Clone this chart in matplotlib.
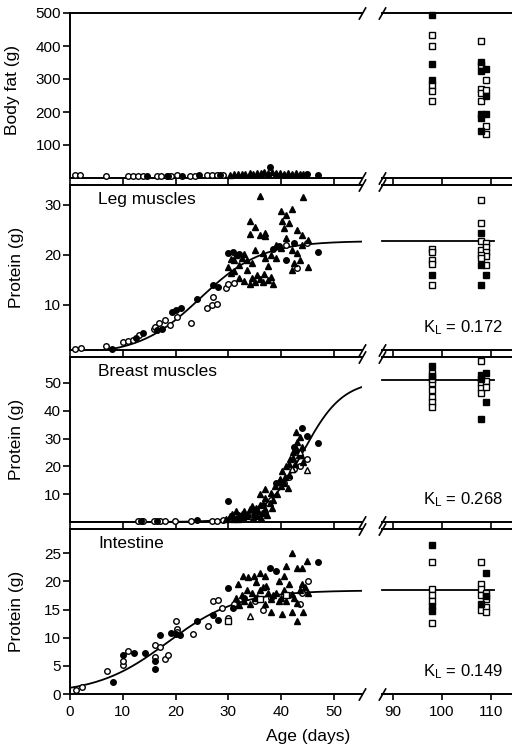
import matplotlib
matplotlib.use('Agg')
import matplotlib.pyplot as plt
import numpy as np

plt.rcParams['font.family'] = ['Liberation Sans', 'DejaVu Sans']

# ---------------- data ----------------
# Body fat (g), left (ages 0-55 d)
fat_oc_day = [0.9, 1.9, 6.9, 10.9, 11.9, 12.8, 13.8, 16.4, 17.3, 18.3, 19.2, 20.2, 22.7, 23.7, 25.9, 26.8, 27.8, 29.0]
fat_oc_val = [8, 8, 6, 5, 6, 6, 6, 7, 7, 7, 7, 8, 7, 7, 8, 8, 9, 10]
fat_fc_day = [14.5, 18.5, 21.2, 24.5, 28.5, 37.9, 44.8, 47.0]
fat_fc_val = [6, 7, 7, 8, 9, 32, 13, 8]
fat_ft_day = [30.3, 31.0, 31.8, 32.5, 33.2, 34.0, 34.7, 35.4, 36.1, 36.8, 37.5, 38.3, 39.0, 39.8, 40.5, 41.2, 42.0, 42.8, 43.5, 44.2]
fat_ft_val = [10, 12, 11, 13, 12, 14, 13, 16, 15, 17, 16, 18, 14, 15, 13, 15, 12, 14, 13, 12]
# Body fat, right (adults)
fat_os_day = [98, 98, 98, 98, 98, 108, 108, 108, 108, 108, 109, 109, 109, 109]
fat_os_val = [434, 401, 283, 265, 233, 414, 341, 270, 258, 233, 296, 266, 158, 132]
fat_fs_day = [98, 98, 98, 108, 108, 108, 108, 108, 109, 109, 109]
fat_fs_val = [494, 345, 298, 353, 323, 193, 183, 143, 330, 248, 193]

# Leg muscles protein (g)
leg_oc_day = [1.0, 2.0, 6.9, 10.1, 11.0, 11.9, 13.1, 15.9, 16.1, 16.9, 18.0, 19.0, 20.2, 23.0, 25.9, 26.8, 27.8, 27.0, 29.5, 30.0, 31.0, 41.0, 42.9, 44.8]
leg_oc_val = [1.3, 1.5, 1.9, 2.6, 2.9, 3.1, 4.1, 5.2, 5.7, 6.4, 7.1, 6.0, 7.7, 6.5, 9.4, 10.1, 10.3, 11.6, 13.5, 14.2, 14.4, 22.0, 17.4, 22.5]
leg_fc_day = [7.9, 12.5, 13.9, 16.5, 17.5, 19.3, 20.0, 21.1, 24.0, 27.1, 28.0, 30.0, 30.9, 32.0, 38.5, 39.5, 41.0, 42.5, 47.0]
leg_fc_val = [1.3, 3.5, 4.5, 5.0, 5.2, 8.7, 9.0, 9.4, 11.2, 14.0, 13.6, 20.5, 20.7, 20.3, 21.3, 21.8, 19.0, 22.5, 20.7]
leg_ft_day = [30.0, 30.5, 31.0, 32.0, 33.0, 34.0, 35.0, 36.0, 36.8, 37.5, 37.5, 38.0, 38.5, 36.0, 44.1, 34.1, 35.0, 34.1,
              36.0, 37.0, 39.9, 42.0, 41.0, 41.5, 40.2, 40.5, 43.0, 44.0, 45.0, 31.5, 32.5, 33.5, 34.5, 35.0, 36.5, 37.0,
              38.0, 39.0, 40.0, 42.0, 42.5, 43.5, 45.0, 42.0, 43.0, 44.0, 41.0, 39.0, 33.0, 35.5, 36.5, 34.5, 33.5, 31.0,
              32.0, 30.5, 37.0]
leg_ft_val = [17.7, 16.5, 16.8, 15.5, 14.8, 14.3, 14.6, 15.3, 16.2, 15.0, 17.8, 15.6, 14.2, 31.9, 31.6, 26.9, 25.7, 24.3,
              24.0, 24.5, 28.9, 29.3, 28.0, 26.5, 26.8, 25.5, 25.0, 24.0, 23.0, 20.0, 19.5, 19.0, 18.5, 21.0, 20.5, 19.5,
              20.0, 19.5, 21.5, 21.0, 18.5, 19.0, 17.6, 17.0, 20.5, 22.0, 23.5, 22.0, 20.3, 16.0, 14.7, 15.5, 17.0, 19.0,
              18.0, 19.2, 23.8]
leg_os_day = [98, 98, 98, 98, 98, 108, 108, 108, 108, 109, 109, 109, 109, 108, 108, 109]
leg_os_val = [21.3, 20.7, 19.0, 18.3, 14.1, 31.1, 26.5, 22.8, 21.0, 22.5, 21.7, 20.7, 19.8, 20.0, 19.4, 18.0]
leg_fs_day = [98, 108, 108, 108, 109]
leg_fs_val = [16.0, 24.5, 18.0, 14.1, 16.0]

# Breast muscles protein (g)
br_oc_day = [12.9, 13.9, 15.9, 17.0, 18.0, 19.9, 23.0, 26.8, 27.8, 29.0, 30.5, 32.0, 35.0, 38.0, 40.5, 42.5, 44.9, 43.5, 41.5]
br_oc_val = [0.3, 0.3, 0.3, 0.4, 0.4, 0.4, 0.4, 0.5, 0.5, 0.8, 1.5, 2.0, 2.5, 8.0, 14.0, 19.0, 22.7, 20.0, 16.0]
br_fc_day = [13.5, 16.5, 24.0, 30.0, 43.9, 44.8, 46.9, 42.5, 39.0, 36.5, 33.0]
br_fc_val = [0.3, 0.3, 0.6, 7.6, 33.9, 31.0, 28.3, 27.0, 14.0, 6.0, 2.5]
br_ft_day = [29.5, 30.3, 30.6, 31.0, 31.5, 32.0, 32.5, 33.0, 33.5, 34.0, 34.4, 34.8, 35.2, 35.6, 36.0, 36.4, 36.9, 37.3,
             37.8, 38.2, 38.8, 39.2, 39.8, 40.1, 40.5, 41.0, 41.4, 41.7, 42.0, 42.3, 42.6, 42.9, 43.3, 43.6, 44.0, 44.2,
             36.0, 36.9, 38.0, 39.5, 40.8, 41.5, 42.2, 43.0, 43.8, 41.2, 40.0, 42.8, 37.0, 35.0,
             30.8, 31.8, 32.8, 33.8, 34.6, 35.4, 36.2, 37.0, 38.5]
br_ft_val = [1.2, 2.0, 2.8, 1.5, 3.8, 2.5, 3.0, 4.0, 2.2, 4.5, 5.6, 3.5, 5.0, 4.0, 6.0, 3.2, 4.8, 2.5,
             7.0, 5.0, 12.9, 10.0, 15.5, 18.5, 14.0, 20.3, 17.0, 22.7, 19.0, 25.1, 21.0, 28.7, 24.0, 30.5, 27.0, 21.7,
             9.9, 11.7, 10.5, 14.5, 16.0, 21.0, 23.0, 26.0, 24.0, 12.1, 13.0, 32.5, 8.5, 3.0,
             1.0, 1.2, 1.8, 2.8, 1.6, 2.0, 1.5, 4.0, 8.0]
br_ot_day = [44.8, 43.5, 42.0]
br_ot_val = [18.7, 25.0, 19.0]
br_os_day = [98, 98, 98, 98, 98, 98, 98, 108, 108, 108, 108, 109, 109]
br_os_val = [53.5, 49.9, 47.5, 45.1, 43.3, 41.5, 51.5, 57.7, 49.9, 48.1, 46.3, 50.5, 48.5]
br_fs_day = [98, 98, 108, 108, 109, 109, 108]
br_fs_val = [56.1, 52.5, 52.9, 36.9, 53.7, 43.1, 51.5]

# Intestine protein (g)
in_oc_day = [1.1, 2.2, 7.1, 10.1, 10.1, 11.05, 16.1, 16.1, 17.05, 18.0, 18.5, 20.1, 20.2, 20.2, 23.2, 26.1, 27.0, 28.1,
             28.8, 30.0, 31.0, 35.0, 38.0, 41.5, 43.5, 45.1, 44.0, 36.5]
in_oc_val = [0.67, 1.26, 4.1, 5.2, 5.8, 7.7, 8.7, 6.6, 8.3, 6.2, 7.0, 12.9, 11.6, 11.0, 10.7, 12.1, 16.5, 16.7,
             15.2, 13.5, 16.0, 16.5, 17.0, 17.5, 16.0, 20.0, 18.0, 15.0]
in_fc_day = [8.1, 10.1, 12.1, 14.2, 16.1, 16.1, 17.05, 19.1, 20.0, 20.8, 24.0, 27.1, 28.0, 30.0, 30.9, 37.9, 39.1, 47.0, 33.0]
in_fc_val = [2.2, 6.9, 7.3, 7.3, 4.5, 5.9, 10.4, 10.9, 10.6, 10.4, 12.9, 14.1, 13.2, 18.8, 15.2, 22.4, 21.8, 23.4, 17.0]
in_ft_day = [31.9, 32.8, 33.7, 34.8, 36.0, 36.9, 31.5, 32.5, 33.5, 34.5, 35.5, 36.5, 37.5, 38.5, 39.5, 40.5, 41.5, 42.5,
             43.5, 44.5, 32.0, 33.0, 34.0, 35.0, 36.0, 37.0, 38.0, 39.0, 40.0, 41.0, 42.0, 43.0, 44.0, 45.0, 38.0, 40.1,
             42.1, 43.0, 44.1, 41.98, 44.95, 43.9, 42.9, 41.0, 39.5, 40.5, 35.2, 37.2]
in_ft_val = [19.6, 20.9, 20.8, 20.9, 21.4, 20.9, 17.0, 17.5, 18.5, 18.0, 17.2, 19.0, 18.0, 17.5, 16.5, 18.5, 19.5, 17.0,
             18.5, 19.0, 15.8, 16.5, 16.0, 17.0, 18.5, 16.0, 16.8, 18.0, 17.0, 16.5, 17.8, 16.2, 19.5, 18.0, 14.6, 14.2,
             14.6, 12.9, 14.5, 25.1, 23.6, 22.4, 22.4, 22.7, 20.0, 21.0, 19.8, 19.2]
in_ot_day = [34.1]
in_ot_val = [13.8]
in_sq_day = [30.0, 36.0, 41.0]
in_sq_val = [13.0, 16.8, 17.5]
in_os_day = [98, 98, 98, 98, 98, 108, 108, 108, 108, 108, 109, 109, 109, 109]
in_os_val = [23.4, 18.6, 17.5, 16.5, 12.6, 23.4, 19.5, 18.6, 17.5, 15.0, 18.0, 16.8, 15.5, 14.6]
in_fs_day = [98, 98, 98, 109, 108, 109]
in_fs_val = [26.4, 15.6, 14.7, 21.4, 16.0, 17.4]

# logistic fits: asymptote, K_L, inflection age
fit_asym = [22.8, 51.0, 18.4]
fit_k = [0.172, 0.268, 0.149]
fit_ti = [24.7, 44.2, 18.5]

row_titles = [None, 'Leg muscles', 'Breast muscles', 'Intestine']
row_ylabels = ['Body fat (g)', 'Protein (g)', 'Protein (g)', 'Protein (g)']
row_ylims = [(0, 500), (1, 34), (0, 59.3), (0, 29.3)]
row_yticks = [[100, 200, 300, 400, 500], [10, 20, 30], [10, 20, 30, 40, 50], [0, 5, 10, 15, 20, 25]]
left_xticks = [0, 10, 20, 30, 40, 50]
right_xticks = [90, 100, 110]

# ---------------- figure ----------------
W, H = 512, 748
fig = plt.figure(figsize=(W / 100, H / 100), dpi=100)
row_tops = [13, 185, 357, 529]
ph = 165

def style(ax, left=True):
    for s in ['right'] + ([] if left else ['left']):
        ax.spines[s].set_visible(False)
    for s in ax.spines.values():
        s.set_linewidth(1.4)
    ax.tick_params(axis='both', direction='out', length=5, width=1.2, labelsize=11, pad=1.5)
    ax.patch.set_alpha(0)

def pts(ax, x, y, kind, ms=None):
    m = {'oc': ('o', 'white'), 'fc': ('o', 'black'), 'ft': ('^', 'black'), 'ot': ('^', 'white'),
         'os': ('s', 'white'), 'fs': ('s', 'black')}[kind]
    size = ms if ms else (4.8 if m[0] == '^' else 4.0)
    ax.plot(x, y, linestyle='none', marker=m[0], mfc=m[1], mec='black', mew=1.0, ms=size, zorder=3, clip_on=False)

brk = dict(marker=[(-1, -1.75), (1, 1.75)], markersize=9, linestyle='none', color='k', mec='k', mew=1.2, clip_on=False, zorder=5)

axesL, axesR = [], []
for i, top in enumerate(row_tops):
    b = 1 - (top + ph) / H
    axL = fig.add_axes([70 / W, b, 292 / W, ph / H])
    axR = fig.add_axes([382 / W, b, 130 / W, ph / H])
    style(axL, True)
    style(axR, False)
    axL.set_xlim(0, 55.3)
    axR.set_xlim(87.8, 114.3)
    axL.set_ylim(*row_ylims[i])
    axR.set_ylim(*row_ylims[i])
    axL.set_yticks(row_yticks[i])
    axL.set_xticks(left_xticks)
    axR.set_xticks(right_xticks)
    axR.tick_params(axis='y', left=False, labelleft=False)
    if i < 3:
        axL.tick_params(axis='x', labelbottom=False, length=5)
        axR.tick_params(axis='x', labelbottom=False, length=5)
    else:
        axL.tick_params(axis='x', length=4, pad=4)
        axR.tick_params(axis='x', length=4, pad=4)
    axL.plot([1, 1], [0, 1], transform=axL.transAxes, **brk)
    axR.plot([0, 0], [0, 1], transform=axR.transAxes, **brk)
    if row_titles[i]:
        axL.text(0.096, 0.91, row_titles[i], transform=axL.transAxes, fontsize=12.5, va='center', ha='left')
    cy = top + ph / 2 if i > 0 else 90
    fig.text((13 if i == 0 else 17) / W, 1 - cy / H, row_ylabels[i], rotation=90, ha='center', va='center', fontsize=12.5)
    axesL.append(axL)
    axesR.append(axR)

# Body fat
a, r = axesL[0], axesR[0]
pts(a, fat_oc_day, fat_oc_val, 'oc')
pts(a, fat_fc_day, fat_fc_val, 'fc')
pts(a, fat_ft_day, fat_ft_val, 'ft')
pts(r, fat_os_day, fat_os_val, 'os')
pts(r, fat_fs_day, fat_fs_val, 'fs')

groups = [
    (leg_oc_day, leg_oc_val, leg_fc_day, leg_fc_val, leg_ft_day, leg_ft_val, leg_os_day, leg_os_val, leg_fs_day, leg_fs_val),
    (br_oc_day, br_oc_val, br_fc_day, br_fc_val, br_ft_day, br_ft_val, br_os_day, br_os_val, br_fs_day, br_fs_val),
    (in_oc_day, in_oc_val, in_fc_day, in_fc_val, in_ft_day, in_ft_val, in_os_day, in_os_val, in_fs_day, in_fs_val),
]
t = np.linspace(0, 55.3, 400)
for j, g in enumerate(groups):
    a, r = axesL[j + 1], axesR[j + 1]
    A, K, ti = fit_asym[j], fit_k[j], fit_ti[j]
    a.plot(t, A / (1 + np.exp(-K * (t - ti))), color='k', lw=1.3, zorder=2)
    r.plot([87.8, 110.6], [A, A], color='k', lw=1.3, zorder=2, clip_on=False)
    pts(a, g[0], g[1], 'oc')
    pts(a, g[2], g[3], 'fc')
    pts(a, g[4], g[5], 'ft')
    pts(r, g[6], g[7], 'os')
    pts(r, g[8], g[9], 'fs')
    r.text(0.313, 0.133, r'$\mathregular{K_L}$ = %.3f' % K, transform=r.transAxes, fontsize=12, va='center', ha='left')

pts(axesL[2], br_ot_day, br_ot_val, 'ot')
pts(axesL[3], in_ot_day, in_ot_val, 'ot')
pts(axesL[3], in_sq_day, in_sq_val, 'os')

fig.text(308 / W, 1 - 737 / H, 'Age (days)', ha='center', va='center', fontsize=12.5)

fig.savefig('out.png', dpi=100)
